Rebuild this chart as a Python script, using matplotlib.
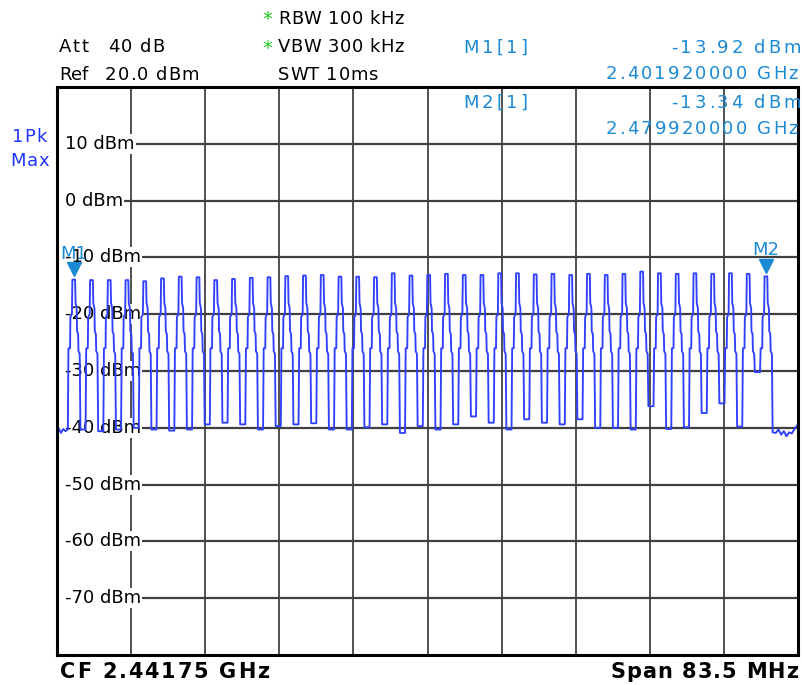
import numpy as np
import matplotlib
matplotlib.use("Agg")
import matplotlib.pyplot as plt
from matplotlib.font_manager import FontProperties, findfont
from matplotlib.ft2font import FT2Font

plt.rcParams['font.family'] = ['DejaVu Sans']

# analyzer settings
center_mhz = 2441.75
span_mhz = 83.5
ref_level = 20.0
y_bottom = -80.0

# channel centres (MHz), peak level and the trough level right after each peak (dBm)
chan_mhz = [2401.92, 2403.92, 2405.92, 2407.92, 2409.92, 2411.92, 2413.92, 2415.92,
            2417.92, 2419.92, 2421.92, 2423.92, 2425.92, 2427.92, 2429.92, 2431.92,
            2433.92, 2435.92, 2437.92, 2439.92, 2441.92, 2443.92, 2445.92, 2447.92,
            2449.92, 2451.92, 2453.92, 2455.92, 2457.92, 2459.92, 2461.92, 2463.92,
            2465.92, 2467.92, 2469.92, 2471.92, 2473.92, 2475.92, 2477.92, 2479.92]
peak_dbm = [-13.92, -14.0, -14.0, -14.0, -14.2, -13.7, -13.4, -13.5, -14.0, -13.8,
            -13.6, -13.5, -13.3, -13.2, -13.1, -13.4, -13.4, -13.5, -12.8, -13.2,
            -13.1, -12.9, -13.1, -13.1, -12.8, -12.8, -13.0, -12.9, -13.1, -12.9,
            -13.1, -12.9, -12.5, -12.8, -12.9, -12.8, -12.9, -12.8, -12.9, -13.34]
trough_dbm = [-40.3, -40.6, -40.3, -40.0, -40.3, -40.5, -40.3, -39.4, -39.1, -39.4,
              -40.3, -39.7, -39.4, -39.2, -40.3, -40.3, -39.9, -39.4, -40.9, -39.7,
              -40.3, -39.4, -38.0, -39.1, -40.3, -38.5, -39.1, -39.4, -38.5, -40.0,
              -40.0, -40.3, -36.2, -40.2, -39.9, -37.4, -35.7, -39.8, -30.2, -40.8]
# shape of one hop around its centre: offsets (MHz) and levels (dBm)
hop_offset = [-0.70, -0.63, -0.45, -0.41, -0.24, -0.19, 0.12, 0.17, 0.30, 0.34, 0.46,
              0.50, 0.64, 0.72]
hop_level = ['prev', -26.0, -26.0, -20.5, -20.0, 'peak', 'peak', -18.0, -19.0, -23.0,
             -23.5, -26.5, -27.0, 'trough']
# noise floor outside the hopping band
edge_lo_mhz = [2400.0, 2400.2, 2400.45, 2400.7, 2400.95, 2401.2]
edge_lo_dbm = [-40.6, -40.1, -40.9, -40.2, -40.6, -40.3]
edge_hi_mhz = [2481.0, 2481.3, 2481.6, 2481.9, 2482.2, 2482.5, 2482.8, 2483.1, 2483.5]
edge_hi_dbm = [-40.9, -40.3, -41.2, -40.6, -41.5, -40.8, -41.0, -40.2, -39.4]

m1 = (2401.92, -13.92)
m2 = (2479.92, -13.34)

# build trace
fx = list(edge_lo_mhz)
fy = list(edge_lo_dbm)
prev_t = edge_lo_dbm[-1]
for c, p, t in zip(chan_mhz, peak_dbm, trough_dbm):
    for off, lev in zip(hop_offset, hop_level):
        fx.append(c + off)
        if lev == 'prev':
            fy.append(prev_t)
        elif lev == 'peak':
            fy.append(p)
        elif lev == 'trough':
            fy.append(t)
        else:
            fy.append(lev)
    prev_t = t
fx += edge_hi_mhz
fy += edge_hi_dbm

W, H = 803, 685
fig = plt.figure(figsize=(W / 100, H / 100), dpi=100)
L, R, T, B = 57, 798, 87, 655
ax = fig.add_axes([L / W, 1 - B / H, (R - L) / W, (B - T) / H])
f0 = center_mhz - span_mhz / 2
f1 = center_mhz + span_mhz / 2
ax.set_xlim(f0, f1)
ax.set_ylim(y_bottom, ref_level)
ax.set_xticks([])
ax.set_yticks([])
for s in ax.spines.values():
    s.set_linewidth(2.2)
    s.set_color('black')
    s.set_zorder(6)

for i in range(1, 10):
    ax.axvline(f0 + i * span_mhz / 10, color='#202020', lw=1.1, zorder=1)
for lev in range(10, -80, -10):
    ax.axhline(lev, color='#404040', lw=1.6, zorder=1)

lab_col = '#1a8ad4'
for lev in range(10, -80, -10):
    ax.plot([f0, f0 + 1.0], [lev, lev], color='white', lw=3, zorder=1.5)
    ax.text(f0 + 0.95, lev, f'{lev} dBm', fontsize=13, va='center', ha='left', zorder=2,
            bbox=dict(boxstyle='square,pad=0.05', facecolor='white', edgecolor='none'))

ax.plot(fx, fy, color='#3040ff', lw=1.35, zorder=3)

for (mf, ml), name in [(m1, 'M1'), (m2, 'M2')]:
    ax.plot(mf, ml + 1.9, marker='v', color=lab_col, markersize=10, zorder=5, clip_on=False)
    ax.text(mf, ml + 4.6, name, color=lab_col, fontsize=13, ha='center', va='center', zorder=5)


def fit_text(x0, x1, yb, s, size=13, color='black', weight='normal'):
    # spread characters of s between pixel columns x0 and x1 on baseline yb
    prop = FontProperties(family='DejaVu Sans', weight=weight, size=size)
    font = FT2Font(findfont(prop))
    font.set_size(size, 100)
    adv = [font.load_char(ord(ch)).linearHoriAdvance / 65536 for ch in s]
    track = (x1 - x0 - sum(adv[:-1]) - adv[-1] * 0.9) / max(len(s) - 1, 1)
    pos = x0
    for ch, a in zip(s, adv):
        if ch != ' ':
            fig.text(pos / W, 1 - yb / H, ch, fontproperties=prop, color=color,
                     ha='left', va='baseline')
        pos += a + track


green = '#22cc22'
fig.text(262 / W, 1 - 25 / H, '*', color=green, fontsize=14, va='baseline')
fig.text(262 / W, 1 - 54 / H, '*', color=green, fontsize=14, va='baseline')
fit_text(278, 403, 23.5, 'RBW 100 kHz')
fit_text(278, 403, 52.5, 'VBW 300 kHz')
fit_text(278, 377, 79.5, 'SWT 10ms')
fit_text(59, 88, 52.5, 'Att')
fit_text(108, 163, 52.5, '40 dB')
fit_text(59, 87, 79.5, 'Ref')
fit_text(105, 197, 79.5, '20.0 dBm')

fit_text(463, 527, 53, 'M1[1]', color=lab_col)
fit_text(671, 799, 53, f'{m1[1]:.2f} dBm', color=lab_col)
fit_text(606, 797, 79, f'{m1[0] / 1000:.9f} GHz', color=lab_col)
fit_text(463, 527, 108, 'M2[1]', color=lab_col)
fit_text(671, 799, 108, f'{m2[1]:.2f} dBm', color=lab_col)
fit_text(606, 797, 134, f'{m2[0] / 1000:.9f} GHz', color=lab_col)

fit_text(12, 46, 141.5, '1Pk', color='#1f35ff')
fit_text(10, 48, 166, 'Max', color='#1f35ff')

fit_text(60, 268, 678, f'CF {center_mhz / 1000:.5f} GHz', size=15, weight='bold')
fit_text(610, 797, 678, f'Span {span_mhz} MHz', size=15, weight='bold')

fig.savefig('out.png', dpi=100)
